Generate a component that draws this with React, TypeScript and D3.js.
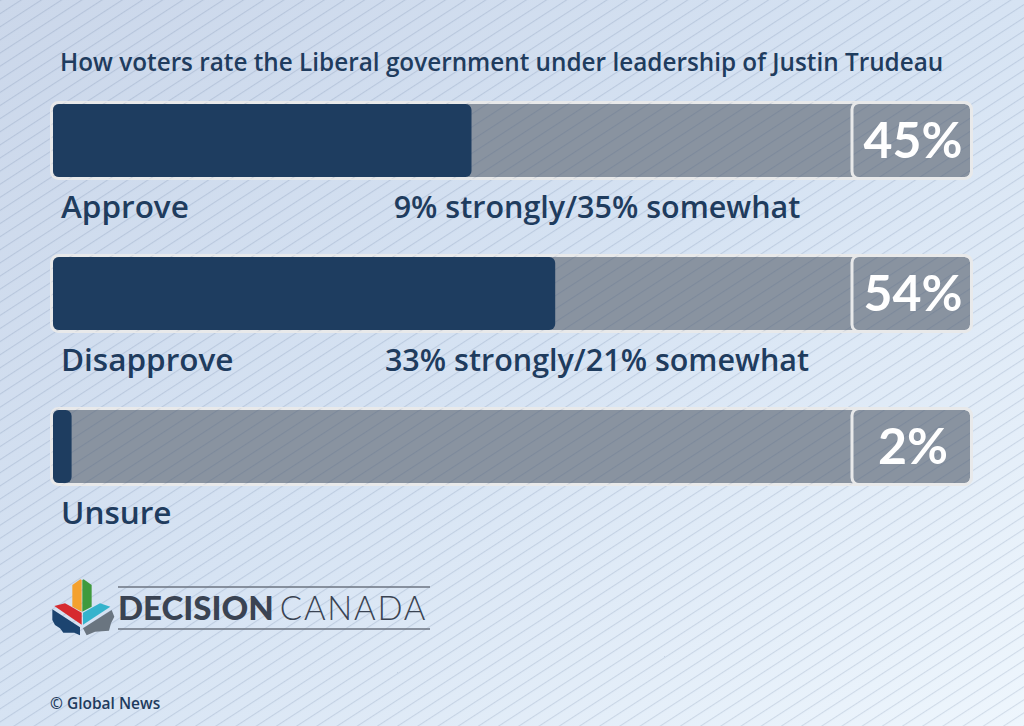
import * as d3 from "d3";

const categories = ["Approve", "Disapprove", "Unsure"];
const values = [45, 54, 2];
const breakdowns = ["9% strongly/35% somewhat", "33% strongly/21% somewhat", ""];
const title = "How voters rate the Liberal government under leadership of Justin Trudeau";

const width = 1024;
const height = 726;
const navy = "#1f3c5e";
const font = "'Open Sans', Lato, sans-serif";

// maple leaf pieces, drawn in a 3x local grid
const leaf = [
  { color: "#f4a12e", d: "M82,45 L106,28 L110,30 L110,125 L82,110 Z" },
  { color: "#3f9a3d", d: "M112,30 L116,28 L140,45 L140,110 L112,125 Z" },
  { color: "#d62a2f", d: "M28,108 L60,100 L75,108 L110,128 L110,164 Z" },
  { color: "#1c4470", d: "M22,118 L105,172 L105,196 L88,188 L55,188 L45,175 L30,165 L22,150 Z" },
  { color: "#35b3cc", d: "M114,128 L150,108 L165,100 L196,110 L114,164 Z" },
  { color: "#6a7580", d: "M114,175 L200,120 L208,140 L198,160 L192,182 L150,185 L125,196 Z" },
];

function App() {
  const x = d3.scaleLinear().domain([0, 100]).range([53, 983]);
  const y = d3
    .scaleBand<string>()
    .domain(categories)
    .range([101, 486])
    .paddingInner(0.4837)
    .paddingOuter(0);
  const bh = y.bandwidth();

  return (
    <svg
      width={width}
      height={height}
      style={{ position: "absolute", left: 0, top: 0 }}
      fontFamily={font}
    >
      <defs>
        <linearGradient id="bg" x1="0" y1="0" x2="1" y2="1">
          <stop offset="0" stopColor="#cbd7ea" />
          <stop offset="0.5" stopColor="#d6e3f3" />
          <stop offset="1" stopColor="#eef6fd" />
        </linearGradient>
        <pattern
          id="stripes"
          width={11}
          height={11}
          patternUnits="userSpaceOnUse"
          patternTransform="rotate(-33)"
        >
          <line x1={0} y1={0.5} x2={11} y2={0.5} stroke="rgba(60,90,130,0.16)" strokeWidth={1.2} />
        </pattern>
      </defs>
      <rect width={width} height={height} fill="url(#bg)" />
      <rect width={width} height={height} fill="url(#stripes)" />

      <text x={60} y={71} fontSize={24.3} fill={navy} fontWeight={600}>
        {title}
      </text>

      {categories.map((c, i) => {
        const top = y(c)!;
        return (
          <g key={c}>
            <rect
              x={51.5}
              y={top + 1.5}
              width={920}
              height={bh - 3}
              rx={7}
              fill="#8993a0"
              stroke="#e8e9ea"
              strokeWidth={3}
            />
            <rect x={51.5} y={top + 1.5} width={920} height={bh - 3} rx={7} fill="url(#stripes)" />
            <rect
              x={852}
              y={top + 1.5}
              width={119.5}
              height={bh - 3}
              rx={7}
              fill="none"
              stroke="#e8e9ea"
              strokeWidth={3}
            />
            <rect
              x={x(0)}
              y={top + 3}
              width={x(values[i]) - x(0)}
              height={bh - 6}
              rx={6}
              fill="#1e3d60"
            />
            <text
              x={913}
              y={top + 57}
              textAnchor="middle"
              fontSize={50}
              fontWeight={700}
              fontFamily="Lato, sans-serif"
              fill="#fff"
            >
              {values[i]}%
            </text>
            <text x={61} y={top + 117} fontSize={31.5} fill={navy} fontWeight={600}>
              {c}
            </text>
            <text
              x={597}
              y={top + 117}
              textAnchor="middle"
              fontSize={30.5}
              fill={navy}
              fontWeight={600}
            >
              {breakdowns[i]}
            </text>
          </g>
        );
      })}

      <g transform="translate(45,570) scale(0.3333)">
        {leaf.map((p, i) => (
          <path key={i} d={p.d} fill={p.color} />
        ))}
      </g>
      <line x1={118} x2={430} y1={587} y2={587} stroke="#6b7380" strokeWidth={1.6} />
      <line x1={118} x2={430} y1={629} y2={629} stroke="#6b7380" strokeWidth={1.6} />
      <text x={118} y={620} fontSize={33} fill="#3a4352" fontFamily="Lato, sans-serif">
        <tspan fontWeight={900}>DECISION</tspan>
        <tspan fontWeight={300} dx={6} letterSpacing={1.8}>
          CANADA
        </tspan>
      </text>

      <text x={50} y={709} fontSize={15.5} fill={navy} fontWeight={600}>
        © Global News
      </text>
    </svg>
  );
}

export default App;
